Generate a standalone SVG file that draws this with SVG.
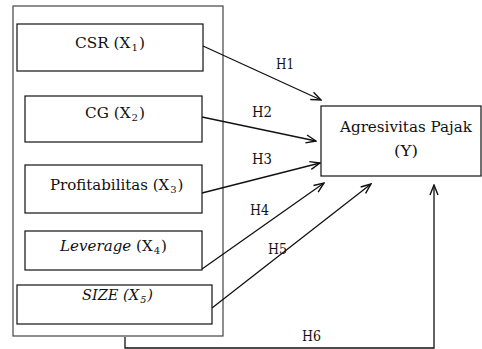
<svg xmlns="http://www.w3.org/2000/svg" width="482" height="349" viewBox="0 0 482 349" font-family="'DejaVu Serif', 'Liberation Serif', serif">
<defs>
<style>
text{font-family:"DejaVu Serif","Liberation Serif",serif;font-size:15px;fill:#111}
.box{fill:#fff;stroke:#111;stroke-width:1.2}
.outer{fill:none;stroke:#444;stroke-width:1.2}
.edge{fill:none;stroke:#111;stroke-width:1.3}
.lbl{font-size:14px}
</style>
<marker id="ah" markerUnits="userSpaceOnUse" markerWidth="12" markerHeight="10" refX="11" refY="5" orient="auto">
<path d="M1,1 L11,5 L1,9" fill="none" stroke="#111" stroke-width="1.4"/>
</marker>
</defs>
<rect class="outer" x="13" y="6" width="210" height="330"/>
<g id="csr"><rect class="box" x="17" y="24" width="186" height="47"/>
<text x="75" y="48" textLength="70" lengthAdjust="spacingAndGlyphs">CSR (X<tspan font-size="10" dx="1" dy="3">1</tspan><tspan dx="1" dy="-3">)</tspan></text></g>
<g id="cg"><rect class="box" x="25" y="96" width="177" height="46"/>
<text x="85" y="118" textLength="60" lengthAdjust="spacingAndGlyphs">CG (X<tspan font-size="10" dx="1" dy="3">2</tspan><tspan dx="1" dy="-3">)</tspan></text></g>
<g id="profit"><rect class="box" x="25" y="165" width="177" height="48"/>
<text x="50" y="190" font-size="13.5">Profitabilitas (X<tspan font-size="10" dx="1" dy="3">3</tspan><tspan dx="1" dy="-3">)</tspan></text></g>
<g id="leverage"><rect class="box" x="25" y="231" width="177" height="39"/>
<text x="60" y="251" textLength="107" lengthAdjust="spacingAndGlyphs"><tspan font-style="italic">Leverage</tspan> (X<tspan font-size="10" dx="1" dy="3">4</tspan><tspan dx="1" dy="-3">)</tspan></text></g>
<g id="size"><rect class="box" x="17" y="285" width="195" height="39"/>
<text x="82" y="300" textLength="71" lengthAdjust="spacingAndGlyphs" font-style="italic">SIZE (X<tspan font-size="10" dx="1" dy="3">5</tspan><tspan dx="1" dy="-3">)</tspan></text></g>
<g id="agresivitas"><rect class="box" x="321" y="106" width="160" height="70"/>
<text x="340" y="132" textLength="132" lengthAdjust="spacingAndGlyphs">Agresivitas  Pajak</text>
<text x="394" y="156" textLength="24" lengthAdjust="spacingAndGlyphs">(Y)</text></g>
<g id="connectors">
<line class="edge" x1="203" y1="46" x2="321" y2="100" marker-end="url(#ah)"/>
<line class="edge" x1="202" y1="117" x2="316" y2="141" marker-end="url(#ah)"/>
<line class="edge" x1="202" y1="193" x2="320" y2="163" marker-end="url(#ah)"/>
<line class="edge" x1="202" y1="269" x2="324" y2="183" marker-end="url(#ah)"/>
<line class="edge" x1="212" y1="308" x2="371" y2="184" marker-end="url(#ah)"/>
<path class="edge" d="M125,337 V348 H434 V185" marker-end="url(#ah)"/>
<text class="lbl" x="276" y="69" textLength="18" lengthAdjust="spacingAndGlyphs">H1</text>
<text class="lbl" x="252" y="117" textLength="20" lengthAdjust="spacingAndGlyphs">H2</text>
<text class="lbl" x="252" y="164" textLength="20" lengthAdjust="spacingAndGlyphs">H3</text>
<text class="lbl" x="250" y="215" textLength="19" lengthAdjust="spacingAndGlyphs">H4</text>
<text class="lbl" x="268" y="254" textLength="19" lengthAdjust="spacingAndGlyphs">H5</text>
<text class="lbl" x="302" y="341" textLength="19" lengthAdjust="spacingAndGlyphs">H6</text>
</g>
</svg>
